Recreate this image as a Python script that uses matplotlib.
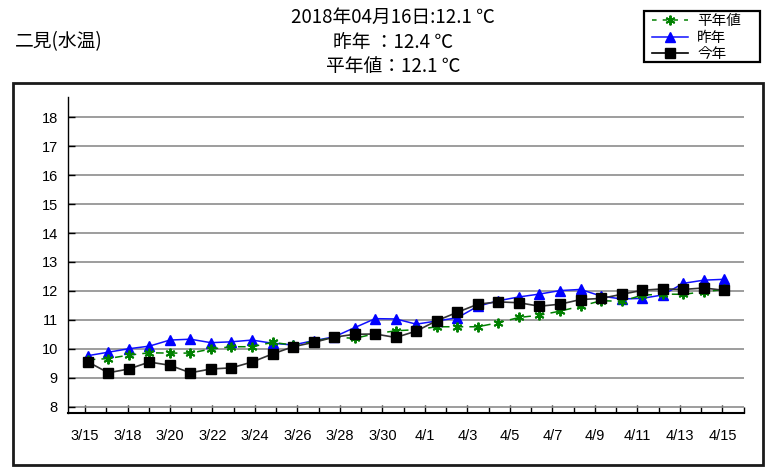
import numpy as np
import matplotlib.pyplot as plt
from matplotlib.lines import Line2D
from matplotlib.patches import Rectangle

plt.rcParams['font.family'] = ['Noto Sans CJK JP', 'DejaVu Sans']

# ── data ──────────────────────────────────────────────────────
dates = [f"3/{d}" for d in range(15, 32)] + [f"4/{d}" for d in range(1, 16)]

tick_labels = ["3/15", "3/18", "3/20", "3/22", "3/24", "3/26", "3/28", "3/30",
               "4/1", "4/3", "4/5", "4/7", "4/9", "4/11", "4/13", "4/15"]

normal = [9.62, 9.66, 9.78, 9.86, 9.85, 9.85, 9.99, 10.07, 10.07, 10.22, 10.13,
          10.25, 10.40, 10.36, 10.52, 10.62, 10.66, 10.76, 10.76, 10.76, 10.90,
          11.08, 11.16, 11.30, 11.47, 11.66, 11.64, 11.85, 11.89, 11.88, 11.97,
          12.05]

last_year = [9.76, 9.88, 10.00, 10.09, 10.30, 10.33, 10.21, 10.24, 10.30, 10.19,
             10.13, 10.28, 10.41, 10.73, 11.04, 11.03, 10.85, 10.96, 11.07, 11.47,
             11.66, 11.79, 11.89, 12.01, 12.05, 11.82, 11.72, 11.74, 11.86, 12.26,
             12.37, 12.40]

this_year = [9.55, 9.17, 9.30, 9.54, 9.43, 9.17, 9.30, 9.34, 9.54, 9.82, 10.07,
             10.22, 10.40, 10.50, 10.51, 10.39, 10.61, 10.97, 11.26, 11.54, 11.62,
             11.59, 11.47, 11.54, 11.70, 11.74, 11.88, 12.02, 12.07, 12.05, 12.10,
             12.02]

W, H = 769, 469
fig = plt.figure(figsize=(W / 100, H / 100), dpi=100)

# axes placed in pixel terms of the reference
ax = fig.add_axes([67.7 / W, 1 - 412.7 / H, (744 - 67.7) / W, (412.7 - 97) / H])

x = np.arange(len(dates))

ax.plot(x, last_year, color="#1010ff", lw=1.1, marker="^", ms=7,
        mfc="#0000ff", mec="#0000ff", zorder=3)
ax.plot(x, normal, color="#008000", lw=1.1, ls=(0, (5, 4)), marker=(6, 2, 0),
        ms=7, mec="#008000", mew=1.4, zorder=4)
ax.plot(x, this_year, color="#333333", lw=1.2, marker="s", ms=6.5,
        mfc="black", mec="black", zorder=5)

ax.set_xlim(-0.974, 31.96)
ax.set_ylim(7.79, 18.70)

# the reference's tick scale is slightly wider than its data spacing
tick_pos = np.linspace(-0.131, 30.91, 31)
ax.set_xticks(tick_pos[::2])
ax.set_xticklabels(tick_labels)
ax.set_xticks(list(tick_pos[1::2]) + [31.96], minor=True)
ax.tick_params(axis="x", which="major", direction="in", length=6, width=1,
               pad=12, labelsize=10.5, colors="black")
ax.tick_params(axis="x", which="minor", direction="in", length=4.3, width=1)
for lab in ax.get_xticklabels():
    lab.set_family(["Liberation Sans", "DejaVu Sans"])

ax.set_yticks(range(8, 19))
ax.tick_params(axis="y", direction="in", length=5, width=1, pad=7,
               labelsize=10.5)
for lab in ax.get_yticklabels():
    lab.set_family(["Liberation Sans", "DejaVu Sans"])

ax.yaxis.grid(True, color="#8c8c8c", lw=1.2)
ax.set_axisbelow(True)
ax.spines["top"].set_visible(False)
ax.spines["right"].set_visible(False)
ax.spines["left"].set_linewidth(1.0)
ax.spines["bottom"].set_linewidth(1.5)

# ── titles ────────────────────────────────────────────────────
fig.text(393 / W, 1 - 17.5 / H, "2018年04月16日:12.1 ℃", ha="center", va="center",
         fontsize=13.5)
fig.text(393 / W, 1 - 42.5 / H, "昨年 ：12.4 ℃", ha="center", va="center",
         fontsize=13.5)
fig.text(393 / W, 1 - 66.5 / H, "平年値：12.1 ℃", ha="center", va="center",
         fontsize=13.5)
fig.text(15 / W, 1 - 42 / H, "二見(水温)", ha="left", va="center", fontsize=13.5)

# ── legend ────────────────────────────────────────────────────
handles = [
    Line2D([], [], color="#008000", lw=1.1, ls=(0, (3, 4)), marker=(6, 2, 0),
           ms=7, mec="#008000", mew=1.4),
    Line2D([], [], color="#1010ff", lw=1.1, marker="^", ms=7, mfc="#0000ff",
           mec="#0000ff"),
    Line2D([], [], color="black", lw=1.2, marker="s", ms=6.5, mfc="black",
           mec="black"),
]
leg = fig.legend(handles, ["平年値", "昨年", "今年"], loc="upper left",
                 bbox_to_anchor=(649 / W, 1 - 11.5 / H), fontsize=10.5,
                 frameon=False, handlelength=2.5, handletextpad=0.6,
                 labelspacing=0.17, borderpad=0.2, borderaxespad=0, numpoints=1)
fig.add_artist(Rectangle((644 / W, 1 - 62.5 / H), (760 - 644) / W, 51.5 / H,
                         transform=fig.transFigure, fill=False, lw=1.6,
                         ec="black"))

# ── outer frame ───────────────────────────────────────────────
fig.add_artist(Rectangle((13.3 / W, 1 - 465 / H), (763 - 13.3) / W, (465 - 83) / H,
                         transform=fig.transFigure, fill=False, lw=2,
                         ec="#1a1a1a"))

fig.savefig("out.png", dpi=100, facecolor="white")
